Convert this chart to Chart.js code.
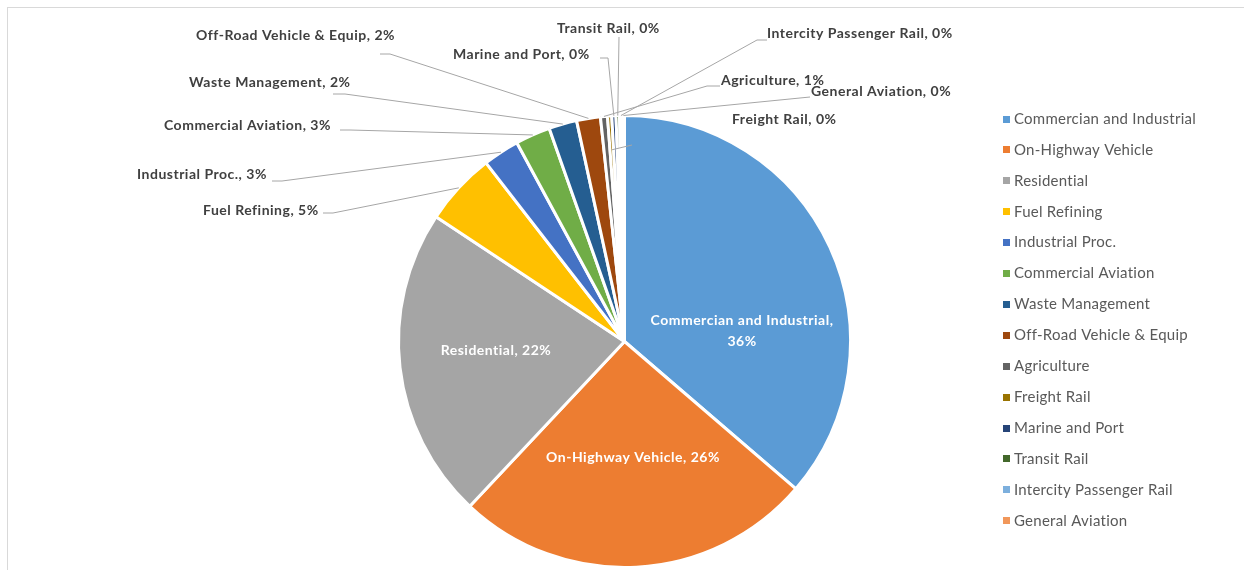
<!DOCTYPE html>
<html>
<head>
<meta charset="utf-8">
<script src="https://cdn.jsdelivr.net/npm/chart.js@4"></script>
<style>
  html, body { margin: 0; padding: 0; background: #fff; }
  #wrap { position: relative; width: 1244px; height: 570px; overflow: hidden; }
  #frame { position: absolute; left: 7px; top: 7px; right: 0; bottom: 0; border-top: 1px solid #d9d9d9; border-left: 1px solid #d9d9d9; }
  canvas { position: absolute; left: 0; top: 0; }
</style>
</head>
<body>
<div id="wrap"><div id="frame"></div><canvas id="pie" width="1244" height="570"></canvas></div>
<script>
// emission share by source category (percent)
const categories = [
    'Commercian and Industrial', 'On-Highway Vehicle', 'Residential', 'Fuel Refining',
    'Industrial Proc.', 'Commercial Aviation', 'Waste Management', 'Off-Road Vehicle & Equip',
    'Agriculture', 'Freight Rail', 'Marine and Port', 'Transit Rail',
    'Intercity Passenger Rail', 'General Aviation'
];
const shares = [36.3, 25.7, 22.3, 5.2, 2.6, 2.5, 2.0, 1.7, 0.5, 0.3, 0.3, 0.25, 0.2, 0.15];
const sliceColors = [
    '#5b9bd5', '#ed7d31', '#a5a5a5', '#ffc000', '#4472c4', '#70ad47', '#255e91',
    '#9e480e', '#636363', '#997300', '#264478', '#43682b', '#7cafdd', '#f1975a'
];

// where the data labels sit (text anchor = left edge, middle line) and their leader elbows
const insideLabels = {
    0: { x: 742, y: 320, split: true },
    1: { x: 633, y: 457 },
    2: { x: 496, y: 350 }
};
const outsideLabels = {
    3: { x: 203, y: 210, path: [[323, 213], [333, 213]] },
    4: { x: 137, y: 174, path: [[272, 181], [282, 181]] },
    5: { x: 164, y: 125, path: [[340, 130], [350, 130]] },
    6: { x: 189, y: 82, path: [[333, 94], [345, 94]] },
    7: { x: 196, y: 35, path: [[380, 54], [390, 54]] },
    8: { x: 721, y: 80, path: [[720, 86], [707, 86]] },
    9: { x: 732, y: 119, path: [[632, 145]], depth: 0.85 },
    10: { x: 453, y: 54, path: [[600, 58], [608, 58]] },
    11: { x: 557, y: 28, path: [[619, 37]] },
    12: { x: 767, y: 33, path: [[767, 40], [757, 40]] },
    13: { x: 811, y: 91, path: [[810, 97]] }
};

function pctText(i) {
    const total = shares.reduce((a, b) => a + b, 0);
    return Math.round(shares[i] * 100 / total + 1e-9) + '%';
}

const labelPlugin = {
    id: 'excelLabels',
    afterDraw(chart) {
        const ctx = chart.ctx;
        const meta = chart.getDatasetMeta(0);
        ctx.save();

        // leader lines
        ctx.strokeStyle = '#a6a6a6';
        ctx.lineWidth = 1;
        meta.data.forEach((arc, i) => {
            const lab = outsideLabels[i];
            if (!lab) return;
            const p = arc.getProps(['x', 'y', 'startAngle', 'endAngle', 'outerRadius'], true);
            const mid = (p.startAngle + p.endAngle) / 2;
            const r = p.outerRadius * (lab.depth || 1);
            ctx.beginPath();
            lab.path.forEach((pt, k) => k ? ctx.lineTo(pt[0], pt[1]) : ctx.moveTo(pt[0], pt[1]));
            ctx.lineTo(p.x + r * Math.cos(mid), p.y + r * Math.sin(mid));
            ctx.stroke();
        });

        // outside labels
        ctx.font = 'bold 14px Lato';
        ctx.letterSpacing = '0.5px';
        ctx.fillStyle = '#404040';
        ctx.textBaseline = 'middle';
        ctx.textAlign = 'left';
        Object.keys(outsideLabels).forEach(k => {
            const lab = outsideLabels[k];
            ctx.fillText(categories[k] + ', ' + pctText(k), lab.x, lab.y);
        });

        // inside labels
        ctx.fillStyle = '#ffffff';
        ctx.textAlign = 'center';
        Object.keys(insideLabels).forEach(k => {
            const lab = insideLabels[k];
            if (lab.split) {
                ctx.fillText(categories[k] + ',', lab.x, lab.y);
                ctx.fillText(pctText(k), lab.x, lab.y + 21);
            } else {
                ctx.fillText(categories[k] + ', ' + pctText(k), lab.x, lab.y);
            }
        });

        // legend
        ctx.font = '15px Lato';
        ctx.letterSpacing = '0.25px';
        ctx.textAlign = 'left';
        categories.forEach((name, i) => {
            const y = 119 + i * 30.9;
            ctx.fillStyle = sliceColors[i];
            ctx.fillRect(1003, Math.round(y - 3.5), 7, 7);
            ctx.fillStyle = '#595959';
            ctx.fillText(name, 1014, y);
        });
        ctx.restore();
    }
};

new Chart(document.getElementById('pie'), {
    type: 'pie',
    data: {
        labels: categories,
        datasets: [{
            data: shares,
            backgroundColor: sliceColors,
            borderColor: '#ffffff',
            borderWidth: 3
        }]
    },
    options: {
        responsive: false,
        animation: false,
        layout: { padding: { left: 397, right: 392, top: 114, bottom: 1 } },
        plugins: {
            legend: { display: false },
            tooltip: { enabled: false }
        }
    },
    plugins: [labelPlugin]
});
</script>
</body>
</html>
